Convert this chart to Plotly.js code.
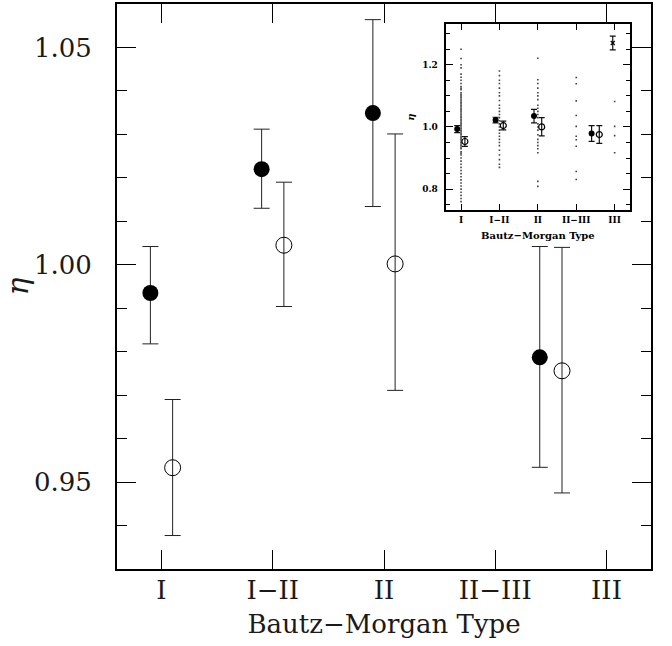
<!DOCTYPE html>
<html>
<head>
<meta charset="utf-8">
<script src="https://cdn.plot.ly/plotly-3.0.1.min.js"></script>
<style>html,body{margin:0;padding:0;background:#fff;}#chart{width:672px;height:646px;}</style>
</head>
<body>
<div id="chart"></div>
<script>
// ---- data ----
var typeTicks = [1, 2, 3, 4, 5];
var typeLabels = ['I', 'I\u2212II', 'II', 'II\u2212III', 'III'];

// filled symbols
var filledX = [0.9, 1.9, 2.9, 4.4];
var filledY = [0.9935, 1.0220, 1.0349, 0.9787];
var filledErrPlus = [0.0107, 0.0092, 0.0215, 0.0255];
var filledErrMinus = [0.0117, 0.0090, 0.0215, 0.0253];

// open symbols
var openX = [1.1, 2.1, 3.1, 4.6];
var openY = [0.9533, 1.0045, 1.0002, 0.9756];
var openErrPlus = [0.0157, 0.0145, 0.0299, 0.0284];
var openErrMinus = [0.0156, 0.0141, 0.0291, 0.0281];

// inset: single type-III point
var type3X = [4.95];
var type3Y = [1.27];
var type3Err = [0.022];

// inset: individual cluster values per type
var dotsI = [1.25, 1.22, 1.20, 1.19, 1.17, 1.16, 1.15, 1.14, 1.13, 1.125, 1.12, 1.11, 1.105, 1.10, 1.095, 1.09, 1.085, 1.08, 1.075, 1.07, 1.065, 1.06, 1.055, 1.05, 1.045, 1.04, 1.035, 1.03, 1.025, 1.02, 1.015, 1.01, 1.005, 1.00, 0.995, 0.99, 0.985, 0.98, 0.975, 0.97, 0.965, 0.96, 0.955, 0.95, 0.945, 0.94, 0.935, 0.93, 0.92, 0.915, 0.91, 0.90, 0.89, 0.88, 0.87, 0.86, 0.85, 0.84, 0.83, 0.82, 0.81, 0.80, 0.79, 0.78, 0.77, 0.76];
var dotsI_II = [1.18, 1.165, 1.15, 1.14, 1.125, 1.11, 1.10, 1.085, 1.07, 1.06, 1.05, 1.04, 1.03, 1.02, 1.01, 1.00, 0.99, 0.98, 0.97, 0.96, 0.95, 0.94, 0.925, 0.91, 0.895, 0.88, 0.87];
var dotsII = [1.221, 1.152, 1.14, 1.125, 1.11, 1.10, 1.088, 1.07, 1.06, 1.05, 1.04, 1.03, 1.01, 1.00, 0.99, 0.975, 0.96, 0.95, 0.94, 0.93, 0.917, 0.825, 0.809];
var dotsII_III = [1.159, 1.139, 1.084, 1.037, 1.002, 0.97, 0.959, 0.938, 0.857, 0.831];
var dotsIII = [1.082, 1.002, 0.972, 0.917];

// ---- build traces ----
function rep(v, n) { var a = []; for (var i = 0; i < n; i++) a.push(v); return a; }
var dotX = [].concat(rep(1, dotsI.length), rep(2, dotsI_II.length), rep(3, dotsII.length), rep(4, dotsII_III.length), rep(5, dotsIII.length));
var dotY = [].concat(dotsI, dotsI_II, dotsII, dotsII_III, dotsIII);

var serif = 'DejaVu Serif, serif';
var errMain = {thickness: 1, width: 8, color: '#222'};
var errInset = {thickness: 1.2, width: 3, color: '#111'};

var traces = [
  {x: filledX, y: filledY, type: 'scatter', mode: 'markers', xaxis: 'x', yaxis: 'y',
   marker: {symbol: 'circle', size: 16, color: '#000'},
   error_y: Object.assign({type: 'data', symmetric: false, array: filledErrPlus, arrayminus: filledErrMinus}, errMain)},
  {x: openX, y: openY, type: 'scatter', mode: 'markers', xaxis: 'x', yaxis: 'y',
   marker: {symbol: 'circle-open', size: 16, color: '#000', line: {width: 1, color: '#000'}},
   error_y: Object.assign({type: 'data', symmetric: false, array: openErrPlus, arrayminus: openErrMinus}, errMain)},
  // inset
  {x: dotX, y: dotY, type: 'scatter', mode: 'markers', xaxis: 'x2', yaxis: 'y2',
   marker: {symbol: 'square', size: 1.6, color: '#444'}},
  {x: filledX, y: filledY, type: 'scatter', mode: 'markers', xaxis: 'x2', yaxis: 'y2',
   marker: {symbol: 'circle', size: 6, color: '#000'},
   error_y: Object.assign({type: 'data', symmetric: false, array: filledErrPlus, arrayminus: filledErrMinus}, errInset)},
  {x: openX, y: openY, type: 'scatter', mode: 'markers', xaxis: 'x2', yaxis: 'y2',
   marker: {symbol: 'circle-open', size: 6, color: '#000', line: {width: 1.2, color: '#000'}},
   error_y: Object.assign({type: 'data', symmetric: false, array: openErrPlus, arrayminus: openErrMinus}, errInset)},
  {x: type3X, y: type3Y, type: 'scatter', mode: 'markers', xaxis: 'x2', yaxis: 'y2',
   marker: {symbol: 'x-thin', size: 4, color: '#000', line: {width: 1.2, color: '#000'}},
   error_y: Object.assign({type: 'data', array: type3Err}, errInset)}
];

var layout = {
  width: 672, height: 646,
  margin: {l: 117, r: 21, t: 4, b: 77},
  paper_bgcolor: '#fff', plot_bgcolor: '#fff',
  showlegend: false,
  font: {family: serif, color: '#000'},
  xaxis: {
    range: [0.6, 5.4], tickmode: 'array', tickvals: typeTicks, ticktext: typeLabels,
    ticks: 'inside', ticklen: 19, tickwidth: 1, tickcolor: '#000',
    showline: true, linewidth: 2, linecolor: '#000', mirror: 'allticks',
    showgrid: false, zeroline: false,
    tickfont: {family: serif, size: 26, color: '#1a1a1a'},
    ticklabelstandoff: -3,
    title: {text: 'Bautz\u2212Morgan Type', font: {family: serif, size: 26, color: '#1a1a1a'}, standoff: 11}
  },
  yaxis: {
    range: [0.93, 1.06], tick0: 0, dtick: 0.05, tickformat: '.2f',
    ticks: 'inside', ticklen: 19, tickwidth: 1, tickcolor: '#000',
    minor: {dtick: 0.01, tick0: 0, ticks: 'inside', ticklen: 10, tickwidth: 1, tickcolor: '#000', showgrid: false},
    showline: true, linewidth: 2, linecolor: '#000', mirror: 'allticks',
    showgrid: false, zeroline: false,
    tickfont: {family: serif, size: 26, color: '#1a1a1a'},
    ticklabelstandoff: 18,
    title: {text: '<i>\u03b7</i>', font: {family: serif, size: 30, color: '#1a1a1a'}, standoff: 6}
  },
  xaxis2: {
    domain: [0.6155, 0.9607], anchor: 'y2',
    range: [0.6, 5.4], tickmode: 'array', tickvals: typeTicks, ticktext: typeLabels,
    ticks: 'inside', ticklen: 6, tickwidth: 1, tickcolor: '#000',
    showline: true, linewidth: 2, linecolor: '#000', mirror: 'allticks',
    showgrid: false, zeroline: false,
    tickfont: {family: serif, size: 9, color: '#000', weight: 700},
    ticklabelstandoff: 0,
    title: {text: 'Bautz\u2212Morgan Type', font: {family: serif, size: 10, color: '#000', weight: 700}, standoff: 8}
  },
  yaxis2: {
    domain: [0.6354, 0.964], anchor: 'x2',
    range: [0.733, 1.33], tick0: 0, dtick: 0.2, tickformat: '.1f',
    ticks: 'inside', ticklen: 7, tickwidth: 1, tickcolor: '#000',
    minor: {dtick: 0.05, tick0: 0, ticks: 'inside', ticklen: 4, tickwidth: 1, tickcolor: '#000', showgrid: false},
    showline: true, linewidth: 2, linecolor: '#000', mirror: 'allticks',
    showgrid: false, zeroline: false,
    tickfont: {family: serif, size: 9, color: '#000', weight: 700},
    ticklabelstandoff: 4,
    title: {text: '<i>\u03b7</i>', font: {family: serif, size: 10, color: '#000', weight: 700}, standoff: 6}
  }
};

Plotly.newPlot('chart', traces, layout, {displayModeBar: false, staticPlot: true});
</script>
</body>
</html>
